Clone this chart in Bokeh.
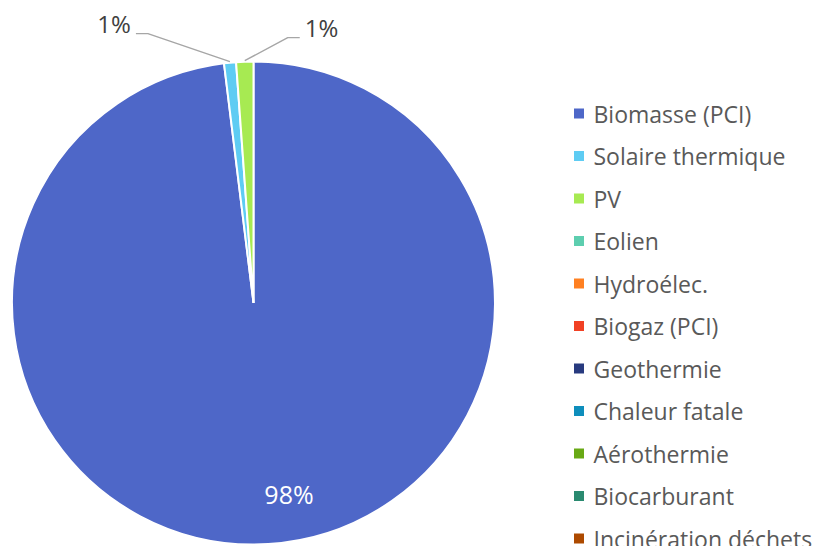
import math
from bokeh.plotting import figure
from bokeh.models import ColumnDataSource, Range1d
from bokeh.core.properties import value
from bokeh.embed import file_html
from bokeh.resources import INLINE

# ---- data ----
categories = ["Biomasse (PCI)", "Solaire thermique", "PV", "Eolien", "Hydroélec.",
              "Biogaz (PCI)", "Geothermie", "Chaleur fatale", "Aérothermie",
              "Biocarburant", "Incinération déchets"]
shares = [98.05, 0.80, 1.15, 0, 0, 0, 0, 0, 0, 0, 0]
colors = ["#4E67C8", "#5ECCF3", "#A7EA52", "#5DCEAF", "#FF8021", "#F14124",
          "#283A7F", "#0E8EBC", "#68A915", "#2A8A70", "#AD4A00"]

# ---- layout (pixels of the figure, y up) ----
W, H = 817, 546
CX, CY, R = 253, 243.5, 241.5
FONT = "Open Sans"

p = figure(width=W, height=H, output_backend="svg", toolbar_location=None,
           x_range=Range1d(0, W), y_range=Range1d(0, H), min_border=0,
           outline_line_color=None)
p.axis.visible = False
p.grid.visible = False

total = sum(shares)
starts, ends, mids = [], [], []
cum = 0.0
for s in shares:
    a0 = math.pi / 2 - cum / total * 2 * math.pi
    cum += s
    a1 = math.pi / 2 - cum / total * 2 * math.pi
    starts.append(a0)
    ends.append(a1)
    mids.append((a0 + a1) / 2)

nz = [i for i, s in enumerate(shares) if s > 0]
src = ColumnDataSource(dict(
    x=[CX] * len(nz), y=[CY] * len(nz),
    start=[starts[i] for i in nz], end=[ends[i] for i in nz],
    color=[colors[i] for i in nz]))
p.wedge(x="x", y="y", radius=R, start_angle="start", end_angle="end",
        direction="clock", fill_color="color", line_color="white",
        line_width=2, source=src)

# ---- data labels ----
labels = [f"{round(s / total * 100):d}%" for s in shares]
# big slice: inside label
big = 0
ang = mids[big] + math.radians(7)
p.text(x=[CX + 0.805 * R * math.cos(ang)], y=[CY + 0.805 * R * math.sin(ang)],
       text=[labels[big]], text_color="white", text_font=value(FONT),
       text_font_size="25px", text_align="center", text_baseline="middle")

# small slices: outside labels with leader lines (offsets are layout)
leader = {1: (-82, 28, -1), 2: (43, 23, 1)}
for i, (dx, dy, side) in leader.items():
    ex = CX + (R + 1) * math.cos(mids[i])
    ey = CY + (R + 1) * math.sin(mids[i])
    kx, ky = ex + dx, ey + dy
    hx = kx + side * 12
    p.line(x=[ex, kx, hx], y=[ey, ky, ky], line_color="#A6A6A6", line_width=1.4)
    tx = hx + side * 5
    p.text(x=[tx], y=[ky + 10], text=[labels[i]], text_color="#404040",
           text_font=value(FONT), text_font_size="24px",
           text_align="left" if side > 0 else "right", text_baseline="middle")

# ---- legend ----
LX, LY0, LSTEP = 578.5, 433, 42.5
ly = [LY0 - k * LSTEP for k in range(len(categories))]
p.scatter(x=[LX] * len(categories), y=ly, marker="square", size=10,
          fill_color=colors, line_color=None)
p.text(x=[LX + 14.5] * len(categories), y=ly, text=categories,
       text_color="#595959", text_font=value(FONT), text_font_size="23px",
       text_align="left", text_baseline="middle")

open("out.html", "w").write(file_html(p, INLINE))
